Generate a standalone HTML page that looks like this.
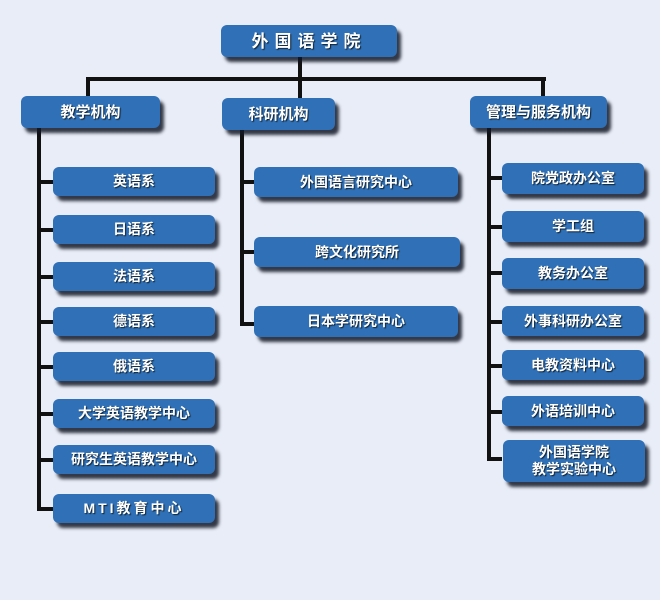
<!DOCTYPE html>
<html><head><meta charset="utf-8"><style>
body{margin:0;width:660px;height:600px;background:#e9edf7;position:relative;overflow:hidden;font-family:"Liberation Sans","Noto Sans CJK SC",sans-serif}
.b{position:absolute;background:#2f70b6;border-radius:6px;color:#fff;font-weight:bold;font-size:14px;display:flex;align-items:center;justify-content:center;text-align:center;line-height:17px;box-shadow:4px 5px 3px rgba(20,25,40,.85);text-shadow:1px 1px 1px #123}
.l{position:absolute;background:#111}
</style></head><body>
<div class="l" style="left:298px;top:56px;width:4px;height:42px"></div>
<div class="l" style="left:86px;top:77px;width:460px;height:4px"></div>
<div class="l" style="left:86px;top:77px;width:4px;height:20px"></div>
<div class="l" style="left:541px;top:77px;width:4px;height:20px"></div>
<div class="l" style="left:37px;top:128px;width:4px;height:383px"></div>
<div class="l" style="left:240px;top:130px;width:4px;height:196px"></div>
<div class="l" style="left:487px;top:128px;width:4px;height:333px"></div>

<div class="b" style="left:221px;top:25px;width:176px;height:32px;font-size:17px;letter-spacing:6px">外国语学院</div>
<div class="b" style="left:21px;top:96px;width:139px;height:32px;font-size:15px">教学机构</div>
<div class="b" style="left:222px;top:98px;width:113px;height:32px;font-size:15px">科研机构</div>
<div class="b" style="left:470px;top:96px;width:137px;height:32px;font-size:15px">管理与服务机构</div>

<div class="l" style="left:37px;top:180px;width:16px;height:4px"></div>
<div class="l" style="left:37px;top:228px;width:16px;height:4px"></div>
<div class="l" style="left:37px;top:275px;width:16px;height:4px"></div>
<div class="l" style="left:37px;top:320px;width:16px;height:4px"></div>
<div class="l" style="left:37px;top:365px;width:16px;height:4px"></div>
<div class="l" style="left:37px;top:412px;width:16px;height:4px"></div>
<div class="l" style="left:37px;top:458px;width:16px;height:4px"></div>
<div class="l" style="left:37px;top:507px;width:16px;height:4px"></div>
<div class="b" style="left:53px;top:167px;width:162px;height:29px">英语系</div>
<div class="b" style="left:53px;top:215px;width:162px;height:29px">日语系</div>
<div class="b" style="left:53px;top:262px;width:162px;height:29px">法语系</div>
<div class="b" style="left:53px;top:307px;width:162px;height:29px">德语系</div>
<div class="b" style="left:53px;top:352px;width:162px;height:29px">俄语系</div>
<div class="b" style="left:53px;top:399px;width:162px;height:29px">大学英语教学中心</div>
<div class="b" style="left:53px;top:445px;width:162px;height:29px">研究生英语教学中心</div>
<div class="b" style="left:53px;top:494px;width:162px;height:29px;letter-spacing:3px">MTI教育中心</div>

<div class="l" style="left:240px;top:180px;width:15px;height:4px"></div>
<div class="l" style="left:240px;top:250px;width:15px;height:4px"></div>
<div class="l" style="left:240px;top:322px;width:15px;height:4px"></div>
<div class="b" style="left:254px;top:167px;width:204px;height:30px">外国语言研究中心</div>
<div class="b" style="left:254px;top:237px;width:206px;height:30px">跨文化研究所</div>
<div class="b" style="left:254px;top:306px;width:204px;height:31px">日本学研究中心</div>

<div class="l" style="left:487px;top:176px;width:15px;height:4px"></div>
<div class="l" style="left:487px;top:225px;width:15px;height:4px"></div>
<div class="l" style="left:487px;top:271px;width:15px;height:4px"></div>
<div class="l" style="left:487px;top:320px;width:15px;height:4px"></div>
<div class="l" style="left:487px;top:364px;width:15px;height:4px"></div>
<div class="l" style="left:487px;top:410px;width:15px;height:4px"></div>
<div class="l" style="left:487px;top:457px;width:15px;height:4px"></div>
<div class="b" style="left:502px;top:163px;width:142px;height:31px">院党政办公室</div>
<div class="b" style="left:502px;top:211px;width:142px;height:31px">学工组</div>
<div class="b" style="left:502px;top:258px;width:142px;height:31px">教务办公室</div>
<div class="b" style="left:502px;top:306px;width:142px;height:30px">外事科研办公室</div>
<div class="b" style="left:502px;top:350px;width:142px;height:30px">电教资料中心</div>
<div class="b" style="left:502px;top:396px;width:142px;height:30px">外语培训中心</div>
<div class="b" style="left:503px;top:440px;width:142px;height:42px">外国语学院<br>教学实验中心</div>
</body></html>
